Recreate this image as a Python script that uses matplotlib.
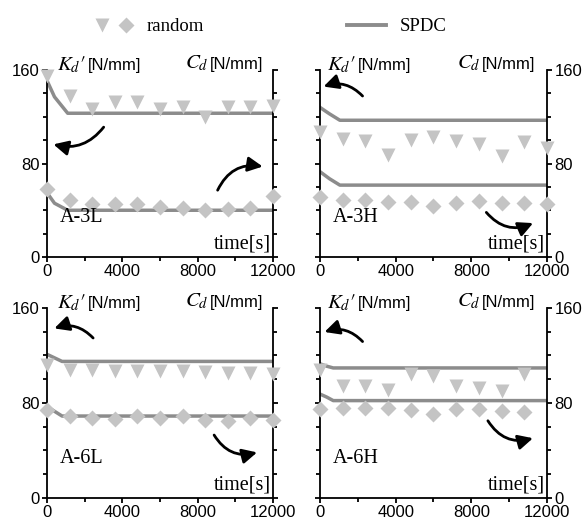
import matplotlib
matplotlib.use('Agg')
import matplotlib.pyplot as plt
from matplotlib.lines import Line2D
from matplotlib.legend_handler import HandlerTuple
from matplotlib.ticker import MultipleLocator

plt.rcParams['font.family'] = 'Liberation Sans'
plt.rcParams['mathtext.fontset'] = 'stix'

# sample times of the random tests (s)
t_rand = [0, 1200, 2400, 3600, 4800, 6000, 7200, 8400, 9600, 10800, 12000]
t_rand_6h = t_rand[:10]

names = ['A-3L', 'A-3H', 'A-6L', 'A-6H']

# random test results
kd_rand = {
    'A-3L': [155, 138, 127, 133, 133, 127, 128, 120, 128, 128, 129],
    'A-3H': [107, 101, 99, 87, 100, 103, 99, 97, 86, 98, 93],
    'A-6L': [112, 108, 108, 107, 107, 107, 107, 106, 105, 105, 104],
    'A-6H': [108, 94, 94, 91, 104, 103, 94, 93, 90, 104],
}
cd_rand = {
    'A-3L': [58, 49, 45, 45, 45, 43, 42, 40, 41, 42, 52],
    'A-3H': [51, 48.5, 48.5, 47, 47, 44, 46, 47.5, 46, 46, 45],
    'A-6L': [74, 69, 67, 66.5, 69, 67, 69, 65.5, 64.5, 67, 66],
    'A-6H': [75, 76, 76, 75.5, 74, 71, 75, 75, 73, 72],
}

# SPDC model curves
t_spdc = {
    'A-3L': [0, 400, 1100, 12000],
    'A-3H': [0, 500, 1050, 12000],
    'A-6L': [0, 400, 800, 12000],
    'A-6H': [0, 350, 700, 12000],
}
kd_spdc = {
    'A-3L': [151, 137, 123, 123],
    'A-3H': [128, 122.5, 117, 117],
    'A-6L': [121, 118, 115, 115],
    'A-6H': [113, 111, 109.5, 109.5],
}
cd_spdc = {
    'A-3L': [55, 46, 40, 40],
    'A-3H': [73, 67, 61.5, 61.5],
    'A-6L': [77, 73, 69, 69],
    'A-6H': [87.5, 85, 82, 82],
}

# arrows: (tail, head, rad) in data coords
arrows = {
    'A-3L': [((3100, 113), (200, 97), -0.35), ((9000, 55), (11600, 77), -0.4)],
    'A-3H': [((2350, 136), (50, 145), 0.35), ((8700, 40), (11400, 30), 0.4)],
    'A-6L': [((2550, 133), (250, 142), 0.35), ((8800, 55), (11300, 39), 0.4)],
    'A-6H': [((2350, 130), (100, 139), 0.35), ((8800, 67), (11400, 51), 0.4)],
}

rand_c = '#c4c4c4'
line_c = '#8c8c8c'
serif = 'Liberation Serif'

fig = plt.figure(figsize=(5.85, 5.17), dpi=100)

boxes = [
    [0.0803, 0.5029, 0.3863, 0.3617],
    [0.547, 0.5029, 0.388, 0.3617],
    [0.0803, 0.0368, 0.3863, 0.3675],
    [0.547, 0.0368, 0.388, 0.3675],
]

for i, (name, box) in enumerate(zip(names, boxes)):
    ax = fig.add_axes(box)
    tr = t_rand_6h if name == 'A-6H' else t_rand
    ax.plot(t_spdc[name], kd_spdc[name], color=line_c, lw=2.5, zorder=2)
    ax.plot(t_spdc[name], cd_spdc[name], color=line_c, lw=2.5, zorder=2)
    ax.plot(tr, kd_rand[name], 'v', color=rand_c, ms=9.5, mec='none', clip_on=False, zorder=3)
    ax.plot(tr, cd_rand[name], 'D', color=rand_c, ms=8, mec='none', clip_on=False, zorder=3)

    ax.set_xlim(0, 12000)
    ax.set_ylim(0, 160)
    ax.spines['top'].set_visible(False)
    for s in ['left', 'right', 'bottom']:
        ax.spines[s].set_linewidth(1.3)
    ax.xaxis.set_major_locator(MultipleLocator(4000))
    ax.xaxis.set_minor_locator(MultipleLocator(2000))
    ax.yaxis.set_major_locator(MultipleLocator(80))
    ax.yaxis.set_minor_locator(MultipleLocator(20))
    left_side = i % 2 == 0
    ax.tick_params(which='both', direction='out', left=True, right=True,
                   labelleft=left_side, labelright=not left_side,
                   labelsize=12, width=1.3, pad=1.5)
    ax.tick_params(which='major', length=3.8)
    ax.tick_params(which='minor', length=3.2)

    for (tail, head, rad) in arrows[name]:
        ax.annotate('', xy=head, xytext=tail,
                    arrowprops=dict(arrowstyle='-|>', color='black', lw=2,
                                    mutation_scale=22,
                                    connectionstyle='arc3,rad=%s' % rad))

    kx = 0.044 if left_side else 0.03
    cx = 0.956 if left_side else 0.947
    ktxt = ax.text(kx, 1.03, r"$K_d\prime$", transform=ax.transAxes, fontsize=15,
                   ha='left', va='center')
    ax.annotate('[N/mm]', xy=(1, 0.45), xycoords=ktxt, xytext=(2, 0),
                textcoords='offset points', fontsize=12, ha='left', va='center')
    ntxt = ax.text(cx, 1.03, '[N/mm]', transform=ax.transAxes, fontsize=12,
                   ha='right', va='center')
    ax.annotate(r"$C_d$", xy=(0, 0.55), xycoords=ntxt, xytext=(-1, 0),
                textcoords='offset points', fontsize=15, ha='right', va='center')
    ax.text(0.055, 0.21, name, transform=ax.transAxes, fontsize=14.5,
            family=serif, ha='left', va='center')
    ax.text(0.99, 0.07, 'time[s]', transform=ax.transAxes, fontsize=14.5,
            family=serif, ha='right', va='center')

h_tri = Line2D([], [], marker='v', ls='none', color=rand_c, ms=9.5, mec='none')
h_dia = Line2D([], [], marker='D', ls='none', color=rand_c, ms=8, mec='none')
h_line = Line2D([], [], color=line_c, lw=2.8)
fig.legend([(h_tri, h_dia), h_line], ['random', 'SPDC'],
           handler_map={tuple: HandlerTuple(ndivide=None, pad=0.5)},
           loc='center', bbox_to_anchor=(0.462, 0.948), ncol=2, frameon=False,
           columnspacing=7.6, handlelength=2.1, handletextpad=0.7,
           prop={'family': serif, 'size': 13.5})

fig.savefig('out.png', dpi=100)
